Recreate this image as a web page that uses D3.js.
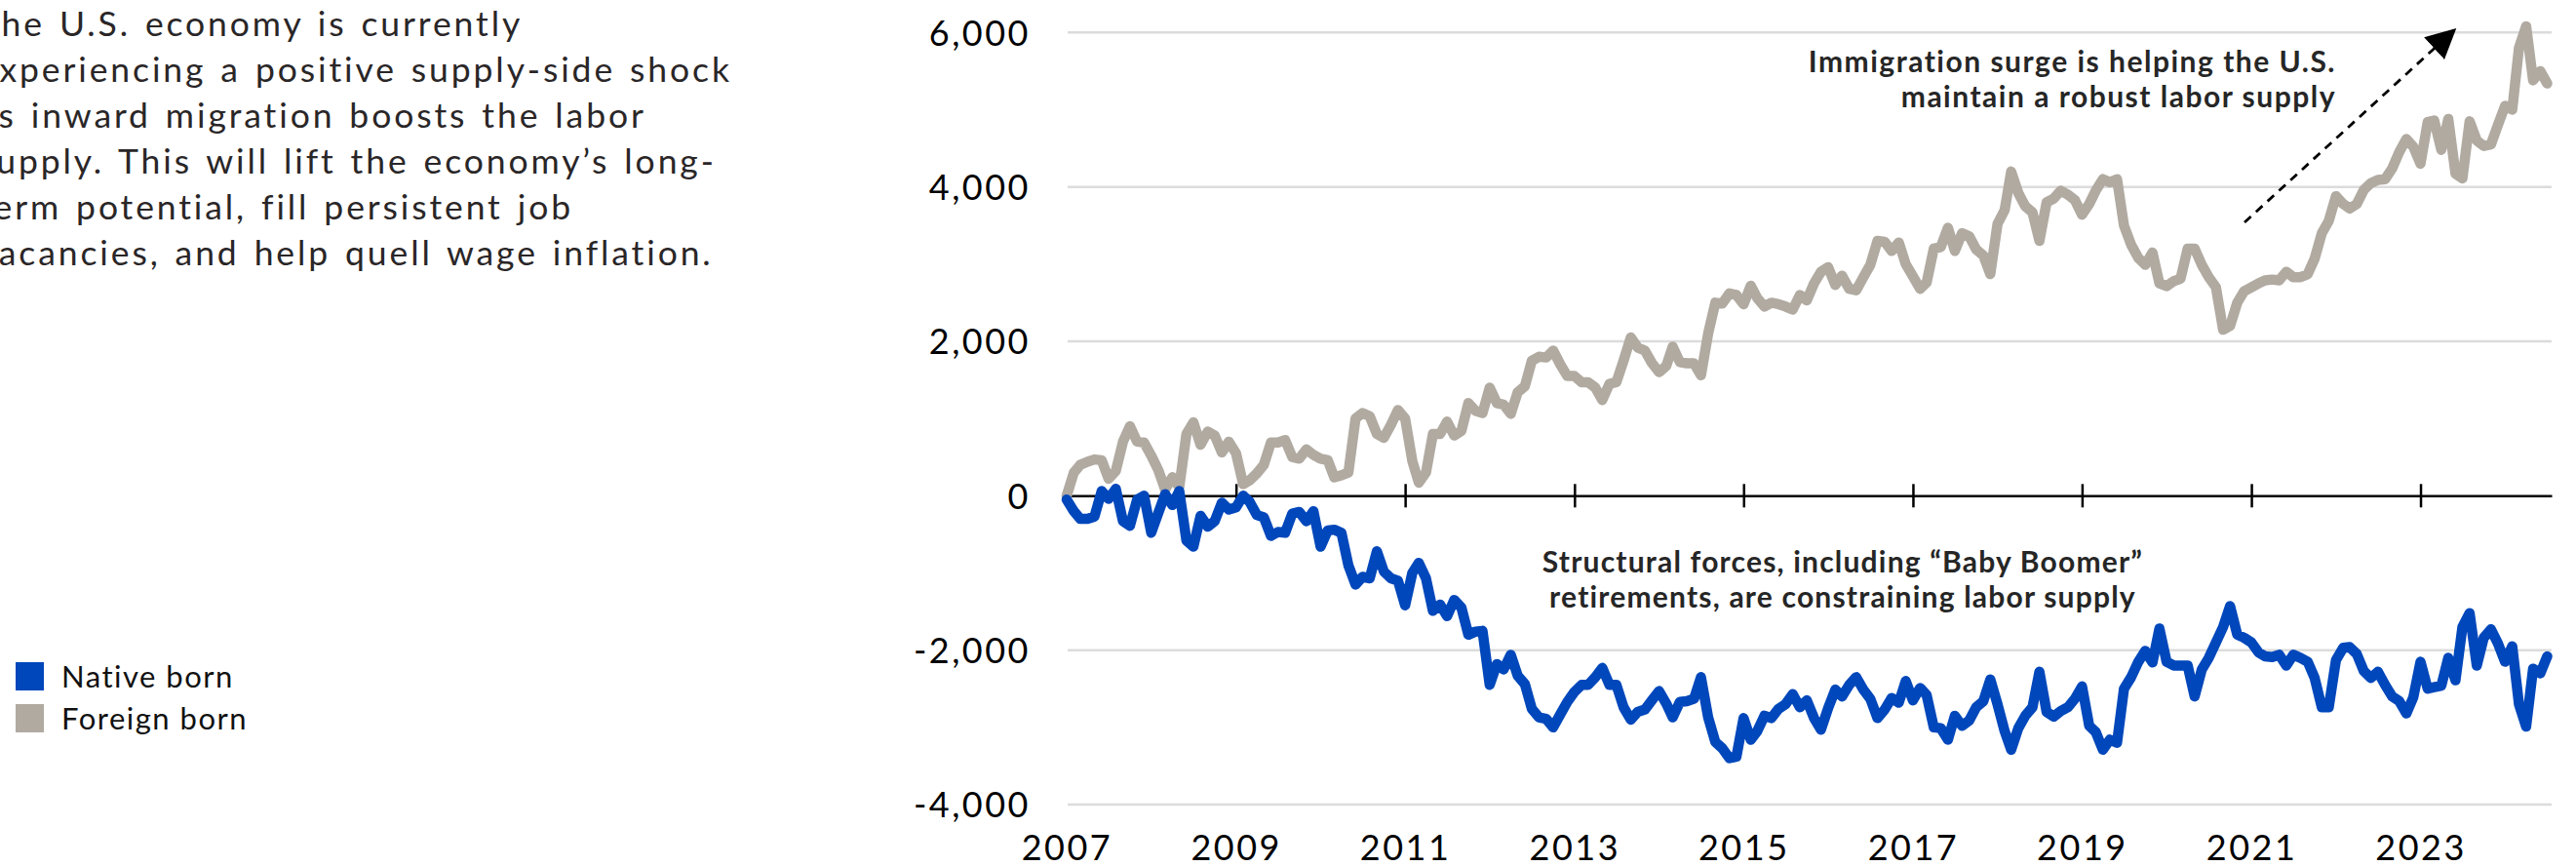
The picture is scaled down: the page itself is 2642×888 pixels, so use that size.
<!DOCTYPE html>
<html>
<head>
<meta charset="utf-8">
<script src="https://cdn.jsdelivr.net/npm/d3@7"></script>
<style>
  body { margin: 0; background: #fff; }
  svg { display: block; font-family: Lato, "Open Sans", sans-serif; }
</style>
</head>
<body>
<svg id="chart" width="2642" height="888"></svg>
<script>
// monthly change in labor force vs Jan 2007, thousands
const foreignBorn = [
  0, 300, 400, 440, 470, 460, 220, 320, 700, 900,
  700, 690, 520, 330, 80, 240, 110, 800, 950, 660,
  830, 780, 560, 700, 550, 150, 200, 290, 400, 690,
  690, 720, 500, 480, 600, 530, 480, 460, 240, 265,
  300, 1000, 1070, 1030, 800, 750, 920, 1110, 1000, 450,
  170, 300, 800, 800, 960, 780, 840, 1200, 1100, 1070,
  1400, 1200, 1180, 1060, 1340, 1420, 1750, 1800, 1790, 1880,
  1700, 1550, 1550, 1470, 1470, 1400, 1240, 1450, 1470, 1750,
  2050, 1920, 1880, 1720, 1600, 1680, 1930, 1730, 1715, 1715,
  1560, 2100, 2500, 2490, 2620, 2600, 2480, 2720, 2560, 2450,
  2500, 2480, 2450, 2410, 2600, 2530, 2750, 2900, 2960, 2730,
  2850, 2680, 2660, 2830, 2990, 3300, 3290, 3170, 3280, 3000,
  2840, 2680, 2760, 3200, 3220, 3470, 3170, 3400, 3360, 3190,
  3110, 2870, 3520, 3700, 4200, 3920, 3750, 3670, 3300, 3800,
  3850, 3950, 3900, 3830, 3640, 3780, 3950, 4100, 4060, 4100,
  3500, 3250, 3080, 2990, 3150, 2750, 2715, 2780, 2810, 3200,
  3200, 2990, 2830, 2700, 2150, 2200, 2500, 2650, 2700, 2750,
  2790, 2800, 2790, 2900, 2830, 2830, 2870, 3070, 3400, 3560,
  3880, 3780, 3720, 3780, 3960, 4050, 4090, 4100, 4240, 4450,
  4620, 4520, 4300, 4840, 4860, 4480, 4880, 4170, 4110, 4850,
  4600, 4530, 4550, 4800, 5050, 5000, 5800, 6080, 5380, 5500,
  5340
];

const nativeBorn = [
  -50, -200, -300, -300, -270, 60, -40, 90, -330, -390,
  -50, 0, -480, -220, 20, -120, 60, -580, -660, -260,
  -400, -330, -90, -180, -150, 0, -80, -250, -280, -520,
  -470, -480, -230, -210, -330, -200, -660, -450, -440, -480,
  -900, -1150, -1050, -1070, -720, -980, -1070, -1100, -1420, -1000,
  -870, -1070, -1490, -1410, -1560, -1350, -1450, -1800, -1760, -1750,
  -2450, -2180, -2250, -2060, -2330, -2440, -2760, -2870, -2890, -3000,
  -2830, -2670, -2540, -2450, -2450, -2350, -2230, -2450, -2450, -2740,
  -2900, -2800, -2770, -2650, -2530, -2690, -2870, -2670, -2660, -2630,
  -2350, -2870, -3190, -3270, -3400, -3380, -2880, -3160, -3050, -2850,
  -2880, -2760, -2700, -2570, -2740, -2650, -2880, -3030, -2750, -2510,
  -2600, -2450, -2350, -2510, -2630, -2880, -2770, -2620, -2680, -2400,
  -2650, -2490, -2580, -3000, -3010, -3160, -2850, -2980, -2910, -2740,
  -2660, -2380, -2700, -3050, -3290, -3010, -2850, -2740, -2280, -2800,
  -2860, -2790, -2740, -2630, -2470, -2980, -3060, -3290, -3160, -3200,
  -2500, -2350, -2150, -2010, -2160, -1720, -2150, -2200, -2200, -2200,
  -2600, -2250, -2100, -1900, -1700, -1430, -1800, -1840, -1900, -2030,
  -2080, -2090, -2060, -2200, -2060, -2100, -2150, -2360, -2740, -2740,
  -2130, -1970, -1960, -2050, -2270, -2360, -2280, -2450, -2600, -2660,
  -2820, -2610, -2150, -2500, -2480, -2460, -2100, -2390, -1700, -1520,
  -2200, -1840, -1730, -1910, -2150, -1950, -2700, -2990, -2240, -2300,
  -2080
];

const yTicks = [-4000, -2000, 0, 2000, 4000, 6000];
const xTickYears = [2007, 2009, 2011, 2013, 2015, 2017, 2019, 2021, 2023];

const seriesNames = ["Native born", "Foreign born"];
const seriesColors = ["#0047bb", "#b0aaa1"];

const introLines = [
  "The U.S. economy is currently",
  "experiencing a positive supply-side shock",
  "as inward migration boosts the labor",
  "supply. This will lift the economy\u2019s long-",
  "term potential, fill persistent job",
  "vacancies, and help quell wage inflation."
];
const noteUp = ["Immigration surge is helping the U.S.", "maintain a robust labor supply"];
const noteDown = ["Structural forces, including \u201cBaby Boomer\u201d", "retirements, are constraining labor supply"];

// months Jan 2007 .. Jul 2024
const months = d3.timeMonth.range(new Date(2007, 0, 1), new Date(2007, foreignBorn.length, 1));

const svg = d3.select("#chart");

const x = d3.scaleTime()
  .domain([new Date(2007, 0, 1), new Date(2024, 6, 20)])
  .range([1094, 2617]);
const y = d3.scaleLinear().domain([-4000, 6000]).range([825, 33.3]);

const fmt = v => d3.format(",")(v).replace("\u2212", "-");

// gridlines + y labels
const yAxis = d3.axisLeft(y).tickValues(yTicks).tickSize(0).tickPadding(0).tickFormat(fmt);
const gy = svg.append("g").attr("transform", "translate(1057,0)").call(yAxis);
gy.select(".domain").remove();
gy.selectAll("text")
  .attr("font-family", "Lato, sans-serif")
  .attr("font-size", 36).attr("fill", "#000")
  .attr("letter-spacing", 2.5)
  .attr("dy", "0.36em");

svg.append("g").selectAll("line")
  .data(yTicks.filter(d => d !== 0))
  .join("line")
  .attr("x1", 1095).attr("x2", 2617)
  .attr("y1", d => y(d)).attr("y2", d => y(d))
  .attr("stroke", "#dcdcdc").attr("stroke-width", 2.5);

// zero axis with year ticks
const xAxis = d3.axisBottom(x)
  .tickValues(xTickYears.map(yr => new Date(yr, 0, 1)))
  .tickSize(0).tickFormat("");
const gx = svg.append("g").attr("transform", `translate(0,${y(0)})`).call(xAxis);
gx.select(".domain").attr("stroke", "#000").attr("stroke-width", 2.5);
gx.selectAll(".tick line").attr("y1", -12).attr("y2", 12).attr("stroke", "#000").attr("stroke-width", 2.5);

const xLabels = d3.axisBottom(x)
  .tickValues(xTickYears.map(yr => new Date(yr, 0, 1)))
  .tickSize(0).tickPadding(0).tickFormat(d3.timeFormat("%Y"));
const gxl = svg.append("g").attr("transform", "translate(0,882)").call(xLabels);
gxl.select(".domain").remove();
gxl.selectAll("text")
  .attr("font-family", "Lato, sans-serif")
  .attr("font-size", 36).attr("fill", "#000")
  .attr("letter-spacing", 2.5)
  .attr("dy", 0);

// lines
const line = d3.line()
  .x((d, i) => x(months[i]))
  .y(d => y(d));

svg.append("path")
  .datum(foreignBorn)
  .attr("d", line)
  .attr("fill", "none")
  .attr("stroke", seriesColors[1])
  .attr("stroke-width", 10.5)
  .attr("stroke-linejoin", "round")
  .attr("stroke-linecap", "round");

svg.append("path")
  .datum(nativeBorn)
  .attr("d", line)
  .attr("fill", "none")
  .attr("stroke", seriesColors[0])
  .attr("stroke-width", 10.5)
  .attr("stroke-linejoin", "round")
  .attr("stroke-linecap", "round");

// annotations
svg.append("text")
  .attr("text-anchor", "end")
  .attr("font-size", 30).attr("font-weight", 700).attr("fill", "#262626")
  .attr("letter-spacing", 1.5)
  .selectAll("tspan").data(noteUp).join("tspan")
  .attr("x", 2396).attr("y", (d, i) => 74 + i * 36)
  .text(d => d);

svg.append("text")
  .attr("text-anchor", "middle")
  .attr("font-size", 30).attr("font-weight", 700).attr("fill", "#262626")
  .attr("letter-spacing", 1.2)
  .selectAll("tspan").data(noteDown).join("tspan")
  .attr("x", 1890).attr("y", (d, i) => 587 + i * 36)
  .text(d => d);

svg.append("defs").append("marker")
  .attr("id", "arrowhead")
  .attr("viewBox", "0 0 10 10")
  .attr("refX", 9).attr("refY", 5)
  .attr("markerWidth", 11).attr("markerHeight", 11)
  .attr("markerUnits", "strokeWidth")
  .attr("orient", "auto")
  .append("path").attr("d", "M0,0 L10,5 L0,10 Z").attr("fill", "#000");

svg.append("line")
  .attr("x1", 2302).attr("y1", 228).attr("x2", 2517).attr("y2", 31)
  .attr("stroke", "#000").attr("stroke-width", 2.8)
  .attr("stroke-dasharray", "9,7")
  .attr("marker-end", "url(#arrowhead)");

// intro paragraph (clipped at left edge as in the source)
svg.append("text")
  .attr("font-size", 35.5).attr("fill", "#2a2627")
  .attr("letter-spacing", 2.9)
  .attr("word-spacing", 3)
  .selectAll("tspan").data(introLines).join("tspan")
  .attr("x", -22).attr("y", (d, i) => 37 + i * 47)
  .text(d => d);

// legend
const legend = svg.append("g").selectAll("g")
  .data(seriesNames).join("g")
  .attr("transform", (d, i) => `translate(16,${679 + i * 43})`);
legend.append("rect")
  .attr("width", 29).attr("height", 29)
  .attr("fill", (d, i) => seriesColors[i]);
legend.append("text")
  .attr("x", 47).attr("y", 26)
  .attr("font-size", 31).attr("fill", "#111")
  .attr("letter-spacing", 1.5)
  .text(d => d);
</script>
</body>
</html>
